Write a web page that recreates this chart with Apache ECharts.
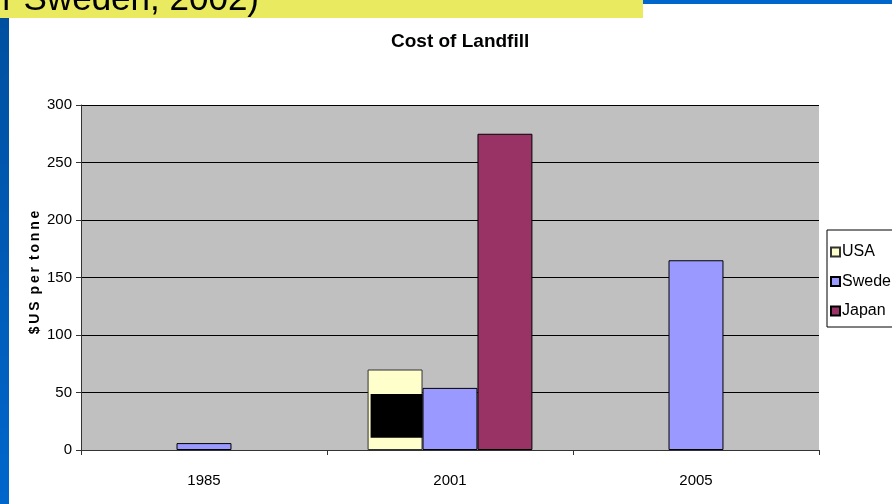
<!DOCTYPE html>
<html>
<head>
<meta charset="utf-8">
<script src="https://cdn.jsdelivr.net/npm/echarts@6/dist/echarts.min.js"></script>
<style>
html,body{margin:0;padding:0;background:#fff;}
#c{width:892px;height:504px;}
</style>
</head>
<body>
<div id="c"></div>
<script>
// ---- data ----
var categories = ['1985', '2001', '2005'];
var usaValues = [null, 70, null];
var swedenValues = [6, 54, 165];
var japanValues = [null, 275, null];
var yTicks = [0, 50, 100, 150, 200, 250, 300];
// black patch covering part of the USA 2001 bar in the source picture: [categoryIndex, low, high]
var patchData = [[1, 10.7, 48.7]];

var sans = "'Liberation Sans Narrow','Arial Narrow','Liberation Sans',Arial,sans-serif";
var catGap = 0.33;

var chart = echarts.init(document.getElementById('c'), null, {renderer: 'canvas'});
chart.setOption({
  animation: false,
  backgroundColor: '#ffffff',
  title: {
    text: 'Cost of Landfill',
    left: 386, top: 27,
    textStyle: {fontFamily: sans, fontWeight: 'bold', fontSize: 19, color: '#000'}
  },
  graphic: [
    {type: 'rect', shape: {x: 0, y: 0, width: 643, height: 18}, style: {fill: '#EAEA60'}, z: 100},
    {type: 'text', style: {x: 259, y: 18, text: 'r Sweden, 2002)', font: '35px "Liberation Sans", Arial, sans-serif', fill: '#000', textAlign: 'right', textVerticalAlign: 'bottom'}, z: 101},
    {type: 'rect', shape: {x: 643, y: 0, width: 249, height: 4}, style: {fill: '#0066CC'}, z: 100},
    {type: 'rect', shape: {x: 0, y: 18, width: 9, height: 486},
     style: {fill: new echarts.graphic.LinearGradient(0, 0, 0, 1, [{offset: 0, color: '#0050A0'}, {offset: 1, color: '#0066CC'}])}, z: 100}
  ],
  grid: {left: 81, right: 73, top: 105, bottom: 54, show: true, backgroundColor: '#C0C0C0', borderWidth: 0},
  legend: {
    orient: 'vertical', left: 827, top: 230,
    data: ['USA', 'Sweden', 'Japan'],
    itemWidth: 9, itemHeight: 9, itemGap: 13.5,
    backgroundColor: '#ffffff', borderColor: '#000', borderWidth: 1,
    padding: [14, 8, 8, 3],
    icon: 'rect',
    textStyle: {fontFamily: sans, fontSize: 16, color: '#000', padding: [0, 0, 0, -3]}
  },
  xAxis: {
    type: 'category', data: categories,
    axisLine: {lineStyle: {color: '#333', width: 1}},
    axisTick: {show: true, length: 5, lineStyle: {color: '#333'}},
    axisLabel: {fontFamily: sans, fontSize: 15, color: '#000', margin: 23},
    splitLine: {show: false}
  },
  yAxis: {
    type: 'value', min: 0, max: 300, interval: 50,
    name: '$\u2009U\u2009S\u2002p\u2009e\u2009r\u2002t\u2009o\u2009n\u2009n\u2009e', nameLocation: 'middle', nameGap: 39, nameRotate: 90,
    nameMoveOverlap: false,
    nameTextStyle: {fontFamily: "'Liberation Sans',Arial,sans-serif", fontWeight: 'bold', fontSize: 14, color: '#000', padding: [0, 0, 0, 10]},
    axisLine: {show: true, lineStyle: {color: '#333'}},
    axisTick: {show: true, inside: false, length: 5, lineStyle: {color: '#333'}},
    axisLabel: {fontFamily: sans, fontSize: 15, color: '#000', margin: 9,
      formatter: function (v) { return yTicks.indexOf(v) >= 0 ? String(v) : ''; }},
    splitLine: {show: true, lineStyle: {color: '#000', width: 1}}
  },
  series: [
    {name: 'USA', type: 'bar', data: usaValues, barGap: '0%', barCategoryGap: (catGap * 100) + '%',
     itemStyle: {color: '#FFFFCC', borderColor: '#333', borderWidth: 1}},
    {name: 'Sweden', type: 'bar', data: swedenValues,
     itemStyle: {color: '#9999FF', borderColor: '#000', borderWidth: 1}},
    {name: 'Japan', type: 'bar', data: japanValues,
     itemStyle: {color: '#993366', borderColor: '#000', borderWidth: 1}},
    {name: 'patch', type: 'custom', data: patchData, z: 5,
     encode: {x: 0, y: [1, 2]},
     renderItem: function (params, api) {
       var idx = api.value(0);
       var band = api.size([1, 0])[0];
       var barW = band * (1 - catGap) / 3;
       var cx = api.coord([idx, 0])[0];
       var yLow = api.coord([idx, api.value(1)])[1];
       var yHigh = api.coord([idx, api.value(2)])[1];
       var left = cx - 1.5 * barW + 3;
       var right = cx - 0.5 * barW;
       return {type: 'rect', shape: {x: left, y: yHigh, width: right - left, height: yLow - yHigh}, style: {fill: '#000'}};
     }}
  ]
});
</script>
</body>
</html>
